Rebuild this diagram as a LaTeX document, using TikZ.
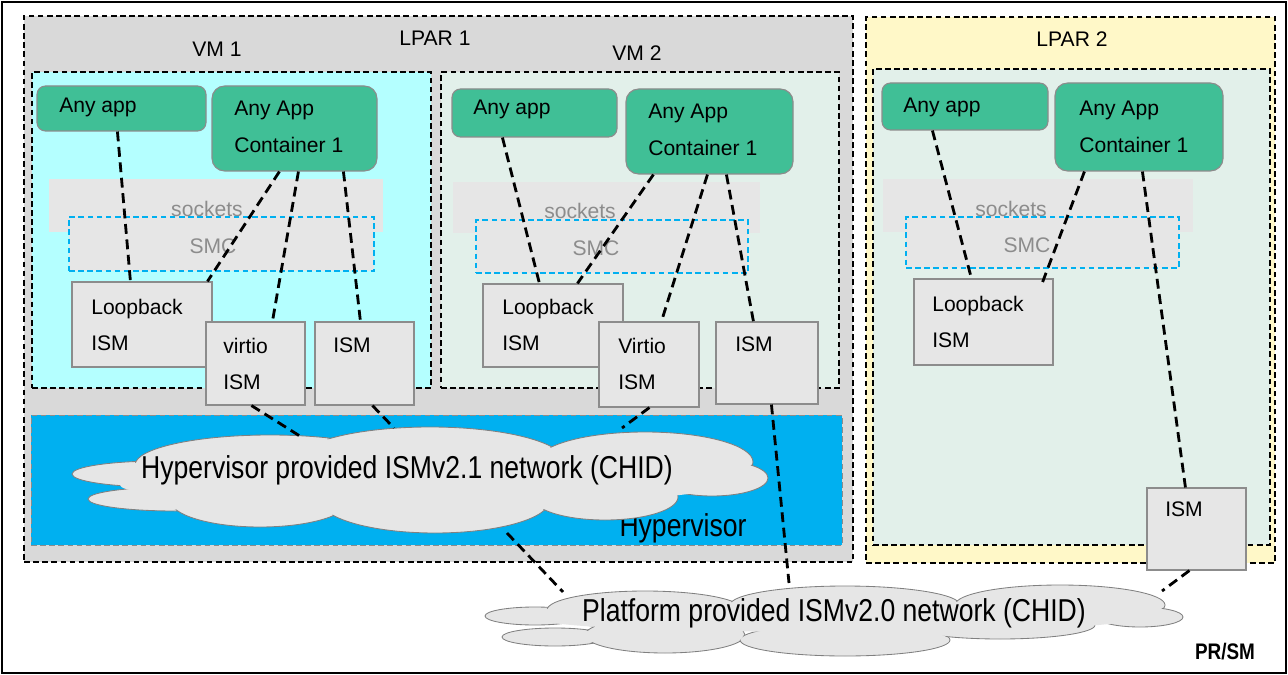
\documentclass[tikz,border=0pt]{standalone}
\usepackage{fontspec}
\setmainfont{Liberation Sans}
\newfontfamily\narrowfont[FakeStretch=0.84]{Liberation Sans}
\usetikzlibrary{fit}

\definecolor{appgreen}{RGB}{64,191,150}
\definecolor{devgray}{RGB}{230,230,230}
\definecolor{bordergray}{RGB}{140,140,140}
\definecolor{softgray}{RGB}{140,140,140}
\definecolor{lparonegray}{RGB}{217,217,217}
\definecolor{lpartwoyellow}{RGB}{255,248,200}
\definecolor{vmcyan}{RGB}{180,255,255}
\definecolor{vmgreen}{RGB}{226,240,234}
\definecolor{hypblue}{RGB}{0,176,240}
\definecolor{cloudgray}{RGB}{128,128,128}

% cloud puffs: centre x / centre y / x radius / y radius
\newcommand\hypuffs{160/474/88/13, 175/499/87/12, 270/465/135/30, 260/500/90/27,
  430/462/135/35, 435/500/115/33, 645/462/108/30, 605/497/73/23, 712/478/56/18}
\newcommand\plpuffs{535/616/50/9, 555/637/53/9, 645/610/98/19, 665/635/80/18,
  845/605/115/19, 845/640/105/16, 1060/605/105/20, 1000/625/95/14, 1140/617/43/10}

\begin{document}
\begin{tikzpicture}[x=0.025cm, y=-0.025cm,
  lpar/.style={draw, line width=1pt, dash pattern=on 4pt off 2.5pt, inner sep=0pt},
  app/.style={draw=bordergray, fill=appgreen, rounded corners=6pt, line width=0.8pt, inner sep=0pt},
  dev/.style={draw=bordergray, fill=devgray, line width=0.8pt, inner sep=0pt},
  band/.style={fill=devgray, inner sep=0pt},
  smc/.style={draw=hypblue, fill=devgray, line width=0.8pt, dash pattern=on 4pt off 2.5pt, inner sep=0pt},
  puff/.style={draw=cloudgray, fill=devgray, line width=0.6pt},
  nettxt/.style={inner sep=0pt, font=\narrowfont\fontsize{22.5}{26}\selectfont},
  lbl/.style={anchor=west, inner sep=0pt, align=left, font=\fontsize{15}{26}\selectfont},
  ctr/.style={inner sep=0pt, font=\fontsize{15}{18}\selectfont},
  soft/.style={ctr, text=softgray},
  link/.style={line width=2pt, dash pattern=on 7pt off 4pt}]
\useasboundingbox (0,0) rectangle (1288,675);
\draw[line width=1.2pt] (2,2) rectangle (1286,673);

% partitions and guests
\node[lpar, fill=lparonegray, fit={(24,16) (853,562)}] (lpar1) {};
\node[lpar, fill=lpartwoyellow, fit={(866,17) (1275,563)}] (lpar2) {};
\node[lpar, fill=vmcyan, fit={(32,72) (431,388)}] (vm1) {};
\node[lpar, fill=vmgreen, fit={(441,72) (839,388)}] (vm2) {};
\node[lpar, fill=vmgreen, fit={(873,69) (1270,545)}] (vm3) {};
\node[draw=bordergray, dash pattern=on 4pt off 2.5pt, fill=hypblue, inner sep=0pt, fit={(31,415) (842,545)}] (hyp) {};
\node[ctr] (l-lpar1) at (435,38) {LPAR 1};
\node[ctr] (l-lpar2) at (1072,39) {LPAR 2};
\node[ctr] (l-vm1) at (217,49) {VM 1};
\node[ctr] (l-vm2) at (637,53) {VM 2};
\node[nettxt] (l-hyp) at (683,528) {Hypervisor};
\node[inner sep=0pt, font=\narrowfont\bfseries\fontsize{16}{18}\selectfont] (l-prsm) at (1225,652) {PR/SM};

% networks
\foreach \cx/\cy/\rx/\ry in \hypuffs
  \draw[puff] (\cx,\cy) ellipse [x radius=\rx, y radius=\ry];
\foreach \cx/\cy/\rx/\ry in \hypuffs
  \fill[devgray] (\cx,\cy) ellipse [x radius=\rx-1.5, y radius=\ry-1.5];
\fill[devgray] (420,485) ellipse [x radius=300, y radius=20];
\node[nettxt] (hnet) at (407,470) {Hypervisor provided ISMv2.1 network (CHID)};

\foreach \cx/\cy/\rx/\ry in \plpuffs
  \draw[puff] (\cx,\cy) ellipse [x radius=\rx, y radius=\ry];
\foreach \cx/\cy/\rx/\ry in \plpuffs
  \fill[devgray] (\cx,\cy) ellipse [x radius=\rx-1.5, y radius=\ry-1.5];
\fill[devgray] (835,620) ellipse [x radius=290, y radius=12];
\node[nettxt] (pnet) at (834,613) {Platform provided ISMv2.0 network (CHID)};

% VM 1
\node[band, fit={(49,179) (383,232)}] (sock1) {};
\node[smc, fit={(69,217) (374,271)}] (smc1) {};
\node[soft] (t-sock1) at (207,209) {sockets};
\node[soft] (t-smc1) at (213,246) {SMC};
\node[app, fit={(37,86) (206,131)}] (app1) {};
\node[app, rounded corners=9pt, fit={(212,86) (377,171)}] (ctr1) {};
\node[dev, fit={(72,282) (212,367)}] (lb1) {};
\node[dev, fit={(206,322) (305,405)}] (vio1) {};
\node[dev, fit={(315,322) (414,405)}] (ism1) {};
\node[lbl] (t-app1) at (59,107) {Any app};
\node[lbl] (t-ctr1) at (234,127) {Any App\\Container 1};
\node[lbl] (t-lb1) at (91,325) {Loopback\\ISM};
\node[lbl] (t-vio1) at (223,364) {virtio\\ISM};
\node[lbl] (t-ism1) at (333,345) {ISM};

% VM 2
\node[band, fit={(453,182) (760,233)}] (sock2) {};
\node[smc, fit={(476,220) (748,273)}] (smc2) {};
\node[soft] (t-sock2) at (580,211) {sockets};
\node[soft] (t-smc2) at (596,248) {SMC};
\node[app, fit={(452,89) (617,137)}] (app2) {};
\node[app, rounded corners=9pt, fit={(626,89) (793,174)}] (ctr2) {};
\node[dev, fit={(483,284) (623,367)}] (lb2) {};
\node[dev, fit={(599,322) (699,407)}] (vio2) {};
\node[dev, fit={(716,322) (818,404)}] (ism2) {};
\node[lbl] (t-app2) at (473,109) {Any app};
\node[lbl] (t-ctr2) at (648,130) {Any App\\Container 1};
\node[lbl] (t-lb2) at (502,325) {Loopback\\ISM};
\node[lbl] (t-vio2) at (618,364) {Virtio\\ISM};
\node[lbl] (t-ism2) at (735,344) {ISM};

% LPAR 2
\node[band, fit={(883,179) (1193,232)}] (sock3) {};
\node[smc, fit={(906,217) (1179,268)}] (smc3) {};
\node[soft] (t-sock3) at (1011,209) {sockets};
\node[soft] (t-smc3) at (1027,245) {SMC};
\node[app, fit={(882,83) (1048,130)}] (app3) {};
\node[app, rounded corners=9pt, fit={(1055,83) (1223,171)}] (ctr3) {};
\node[dev, fit={(914,279) (1053,365)}] (lb3) {};
\node[dev, fit={(1147,488) (1246,570)}] (ism3) {};
\node[lbl] (t-app3) at (903,107) {Any app};
\node[lbl] (t-ctr3) at (1079,127) {Any App\\Container 1};
\node[lbl] (t-lb3) at (932,322) {Loopback\\ISM};
\node[lbl] (t-ism3) at (1165,509) {ISM};

% links
\draw[link] ([shift={(81,0)}]app1.south west) -- ([shift={(59,0)}]lb1.north west);
\draw[link] ([shift={(68,0)}]ctr1.south west) -- ([shift={(136,0)}]lb1.north west);
\draw[link] ([shift={(87,0)}]ctr1.south west) -- ([shift={(67,0)}]vio1.north west);
\draw[link] ([shift={(132,0)}]ctr1.south west) -- ([shift={(46,0)}]ism1.north west);
\draw[link] ([shift={(46,0)}]vio1.south west) -- ([shift={(-104,-32)}]hnet.center);
\draw[link] ([shift={(58,0)}]ism1.south west) -- ([shift={(-13,-42)}]hnet.center);

\draw[link] ([shift={(51,0)}]app2.south west) -- ([shift={(57,0)}]lb2.north west);
\draw[link] ([shift={(28,0)}]ctr2.south west) -- ([shift={(95,0)}]lb2.north west);
\draw[link] ([shift={(82,0)}]ctr2.south west) -- ([shift={(63,0)}]vio2.north west);
\draw[link] ([shift={(101,0)}]ctr2.south west) -- ([shift={(38,0)}]ism2.north west);
\draw[link] ([shift={(51,0)}]vio2.south west) -- ([shift={(215,-42)}]hnet.center);
\draw[link] ([shift={(56,0)}]ism2.south west) -- ([shift={(-45,-30)}]pnet.center);

\draw[link] ([shift={(51,0)}]app3.south west) -- ([shift={(58,0)}]lb3.north west);
\draw[link] ([shift={(30,0)}]ctr3.south west) -- ([shift={(129,4)}]lb3.north west);
\draw[link] ([shift={(88,0)}]ctr3.south west) -- ([shift={(39,0)}]ism3.north west);
\draw[link] ([shift={(43,0)}]ism3.south west) -- ([shift={(328,-22)}]pnet.center);

\draw[link] ([shift={(100,63)}]hnet.center) -- ([shift={(-271,-21)}]pnet.center);
\end{tikzpicture}
\end{document}
